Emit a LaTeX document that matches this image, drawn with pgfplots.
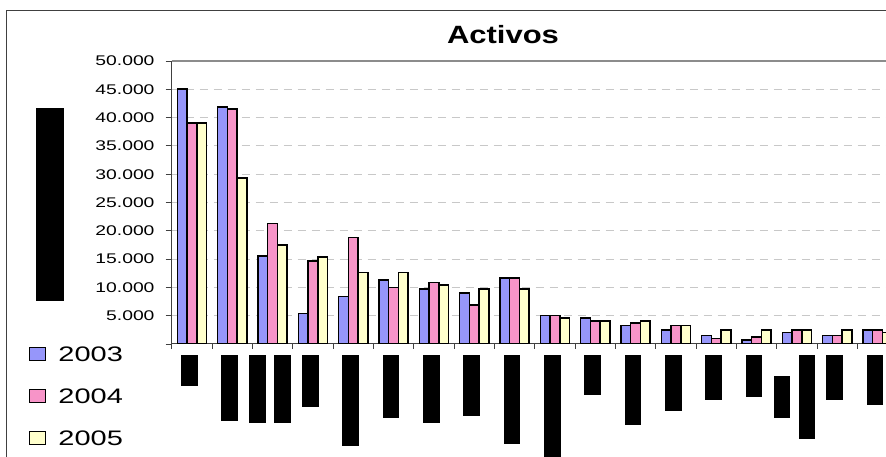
\documentclass[border=0pt]{standalone}
\usepackage{fontspec}
\setmainfont{Liberation Sans}[FakeStretch=1.38]
\newfontfamily\titlefont{Liberation Sans}[FakeStretch=1.24]
\usepackage{pgfplots}
\usepackage{pgfplotstable}
\pgfplotsset{compat=1.18}
\definecolor{c03}{HTML}{9696FA}
\definecolor{c04}{HTML}{F794C8}
\definecolor{c05}{HTML}{FFFFCC}
\definecolor{axgray}{HTML}{404040}
\definecolor{gridgray}{HTML}{C8C8C8}
\definecolor{bordergray}{HTML}{8C8C8C}

\pgfplotstableread{
x y03 y04 y05
0 45000 39000 39000
1 41900 41500 29300
2 15500 21300 17500
3 5400 14700 15400
4 8400 18800 12600
5 11300 10000 12600
6 9700 10900 10400
7 9000 6900 9700
8 11700 11700 9700
9 5000 5000 4600
10 4600 4100 4100
11 3300 3700 4100
12 2500 3300 3300
13 1500 1000 2500
14 700 1200 2500
15 2000 2500 2500
16 1500 1500 2500
17 2500 2500 2000
}\datatable

\pgfplotsset{mylegend/.style={legend image code/.code={\draw[##1, line width=1.2pt] (0pt,-6.5pt) rectangle (16.7pt,6.5pt);}}}

\begin{document}
\begin{tikzpicture}
\begin{axis}[
  at={(0pt,0pt)}, anchor=south west,
  width=714.3pt, height=283pt, scale only axis,
  xmin=-0.5, xmax=17.21, ymin=0, ymax=50000,
  ybar=0pt, bar width=0.24,
  axis x line*=bottom, axis y line*=left,
  axis line style={axgray, line width=1pt},
  tick align=outside,
  major tick length=6pt, minor tick length=5pt,
  tick style={axgray, line width=0.8pt},
  xtick={0,...,17}, minor xtick={-0.5,0.5,...,16.5},
  major x tick style={draw=none},
  xticklabels={
    {\rule[-30.7pt]{16.7pt}{30.7pt}},
    {\rule[-65.7pt]{16.7pt}{65.7pt}},
    {\rule[-68pt]{16.7pt}{68pt}\hspace{8.3pt}\rule[-68pt]{16.7pt}{68pt}},
    {\rule[-51.7pt]{16.7pt}{51.7pt}},
    {\rule[-91pt]{16.7pt}{91pt}},
    {\rule[-63pt]{16.7pt}{63pt}},
    {\rule[-68pt]{16.7pt}{68pt}},
    {\rule[-61pt]{16.7pt}{61pt}},
    {\rule[-89pt]{16.7pt}{89pt}},
    {\rule[-104pt]{16.7pt}{104pt}},
    {\rule[-40pt]{16.7pt}{40pt}},
    {\rule[-70pt]{16.7pt}{70pt}},
    {\rule[-55.7pt]{16.7pt}{55.7pt}},
    {\rule[-45pt]{16.7pt}{45pt}},
    {\rule[-41.7pt]{16.7pt}{41.7pt}},
    {\rule[-63pt]{16.7pt}{42pt}\hspace{8.3pt}\rule[-83.7pt]{16.7pt}{83.7pt}},
    {\rule[-45pt]{16.7pt}{45pt}},
    {\rule[-49.7pt]{16.7pt}{49.7pt}}
  },
  xticklabel style={anchor=north, inner sep=0pt, yshift=-5pt, xshift=-2.5pt},
  ytick={0,5000,...,50000},
  scaled y ticks=false,
  yticklabels={,5.000,10.000,15.000,20.000,25.000,30.000,35.000,40.000,45.000,50.000},
  yticklabel style={font=\fontsize{14}{14}\selectfont, inner sep=0pt, anchor=east, xshift=-11pt},
  /pgf/number format/assume math mode=true,
  ymajorgrids,
  grid style={gridgray, dash pattern=on 8pt off 6pt, line width=1pt},
  title={Activos},
  every axis title shift=0pt,
  title style={at={(axis description cs:0.4638,1)}, anchor=base, yshift=17.7pt, inner sep=0pt, font=\titlefont\bfseries\fontsize{25}{25}\selectfont},
  ylabel={\rule{28pt}{193pt}},
  every axis y label/.style={at={(axis description cs:0,0.5)}, anchor=center, xshift=-121.7pt, yshift=-2pt, inner sep=0pt},
  legend cell align=left,
  legend style={at={(axis description cs:0,0)}, anchor=north west, xshift=-143.3pt, yshift=-2.5pt,
    draw=none, fill=none, inner sep=0pt, row sep=27pt, column sep=12pt,
    nodes={inner sep=0pt, text height=15pt, text depth=0pt, font=\fontsize{21}{21}\selectfont}},
]
\addplot[fill=c03, draw=black, line width=1.6pt, mylegend] table[x=x, y=y03]{\datatable};
\addplot[fill=c04, draw=black, line width=1.6pt, mylegend] table[x=x, y=y04]{\datatable};
\addplot[fill=c05, draw=black, line width=1.6pt, mylegend] table[x=x, y=y05]{\datatable};
\legend{2003,2004,2005}
\end{axis}
\draw[bordergray, line width=1.5pt] (0pt,283pt) -- (714.3pt,283pt);
\draw[axgray, line width=1pt] (-164.7pt,-300pt) -- (-164.7pt,333pt) -- (900pt,333pt);
\pgfresetboundingbox
\useasboundingbox (-171.7pt,-113pt) rectangle (714.3pt,344pt);
\end{tikzpicture}
\end{document}
